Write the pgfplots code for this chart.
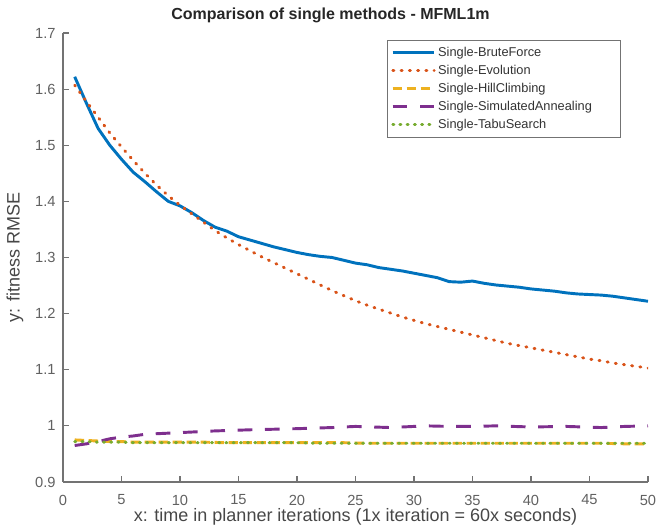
\documentclass[border=0pt]{standalone}
\usepackage{fontspec}
\setmainfont{Liberation Sans}
\usepackage{pgfplots}
\pgfplotsset{compat=1.18}

\definecolor{mblue}{rgb}{0,0.447,0.741}
\definecolor{morange}{rgb}{0.85,0.325,0.098}
\definecolor{myellow}{rgb}{0.929,0.694,0.125}
\definecolor{mpurple}{rgb}{0.494,0.184,0.556}
\definecolor{mgreen}{rgb}{0.466,0.674,0.188}
\definecolor{axgray}{gray}{0.45}

\begin{document}
\begin{tikzpicture}
\begin{axis}[
  scale only axis,
  width=438.75pt, height=336.75pt,
  xmin=0, xmax=50, ymin=0.9, ymax=1.7,
  xtick={0,5,...,50},
  ytick={0.9,1,1.1,1.2,1.3,1.4,1.5,1.6,1.7},
  axis x line*=bottom, axis y line*=left,
  axis line style={draw=axgray, line width=0.9pt, -},
  tick style={draw=axgray, line width=0.9pt},
  tick align=inside,
  major tick length=4.5pt,
  tick label style={font=\fontsize{11}{13}\selectfont, text=black!62},
  xticklabel style={anchor=center, yshift=-13.5pt},
  yticklabel style={xshift=-2pt},
  /pgf/number format/assume math mode=true,
  xlabel={x: time in planner iterations (1x iteration = 60x seconds)},
  ylabel={y: fitness RMSE},
  label style={font=\fontsize{13.5}{15}\selectfont, text=black!72},
  xlabel style={at={(axis description cs:0.5,-0.078)}, anchor=center},
  ylabel style={at={(axis description cs:-0.082,0.5)}, anchor=center},
  legend cell align=left,
  legend style={at={(rel axis cs:0,1)}, anchor=north west, xshift=243pt, yshift=-5.25pt,
    draw=axgray, fill=white, font=\fontsize{9.6}{11}\selectfont, text=black!80,
    row sep=1.1pt, inner xsep=3pt, inner ysep=3pt},
  legend image code/.code={\draw[#1] (0pt,0pt) -- (31pt,0pt);},
]
\coordinate (bl) at (rel axis cs:0,0);
\coordinate (tr) at (rel axis cs:1,1);
\coordinate (tc) at (rel axis cs:0.5,1);
\addplot[mblue, line width=2.2pt] coordinates {
(1,1.622)(2,1.575)(3,1.530)(4,1.500)(5,1.475)(6,1.452)(7,1.435)(8,1.417)(9,1.400)(10,1.392)
(11,1.380)(12,1.366)(13,1.354)(14,1.347)(15,1.337)(16,1.331)(17,1.325)(18,1.319)(19,1.314)(20,1.309)
(21,1.305)(22,1.302)(23,1.300)(24,1.295)(25,1.290)(26,1.287)(27,1.282)(28,1.279)(29,1.276)(30,1.272)
(31,1.268)(32,1.264)(33,1.257)(34,1.256)(35,1.258)(36,1.254)(37,1.251)(38,1.249)(39,1.247)(40,1.244)
(41,1.242)(42,1.240)(43,1.237)(44,1.235)(45,1.234)(46,1.233)(47,1.231)(48,1.228)(49,1.225)(50,1.222)
};
\addlegendentry{Single-BruteForce}
\addplot[morange, line width=2.2pt, dash pattern=on 0.8pt off 5.4pt, line cap=round] coordinates {
(1,1.607)(2,1.578)(3,1.550)(4,1.522)(5,1.497)(6,1.473)(7,1.450)(8,1.429)(9,1.410)(10,1.393)
(11,1.378)(12,1.363)(13,1.348)(14,1.335)(15,1.323)(16,1.312)(17,1.301)(18,1.291)(19,1.281)(20,1.271)
(21,1.261)(22,1.251)(23,1.241)(24,1.232)(25,1.223)(26,1.215)(27,1.208)(28,1.201)(29,1.194)(30,1.188)
(31,1.182)(32,1.177)(33,1.172)(34,1.167)(35,1.162)(36,1.157)(37,1.152)(38,1.147)(39,1.143)(40,1.139)
(41,1.135)(42,1.131)(43,1.127)(44,1.123)(45,1.119)(46,1.116)(47,1.112)(48,1.109)(49,1.106)(50,1.103)
};
\addlegendentry{Single-Evolution}
\addplot[myellow, line width=2.2pt, dash pattern=on 7pt off 3.5pt] coordinates {
(1,0.975)(2,0.974)(3,0.973)(4,0.972)(5,0.972)(6,0.971)(8,0.971)(10,0.971)(12,0.971)(14,0.970)
(16,0.970)(18,0.970)(20,0.970)(22,0.970)(24,0.970)(26,0.969)(28,0.969)(30,0.969)(32,0.969)(34,0.969)
(36,0.969)(38,0.969)(40,0.969)(42,0.969)(44,0.969)(46,0.969)(48,0.968)(50,0.968)
};
\addlegendentry{Single-HillClimbing}
\addplot[mpurple, line width=2.2pt, dash pattern=on 11pt off 9.5pt] coordinates {
(1,0.965)(2,0.968)(3,0.972)(4,0.977)(5,0.980)(6,0.982)(7,0.985)(8,0.986)(10,0.988)(12,0.990)
(13,0.991)(16,0.993)(18,0.994)(20,0.995)(23,0.997)(25,0.999)(28,0.997)(31,1.000)(33,0.999)(35,0.999)
(37,1.000)(40,0.998)(43,0.999)(46,0.997)(48,0.999)(50,1.000)
};
\addlegendentry{Single-SimulatedAnnealing\kern16pt\hbox{}}
\addplot[mgreen, line width=2.2pt, dash pattern=on 0.8pt off 4.6pt, line cap=round] coordinates {
(1,0.972)(2,0.972)(3,0.971)(4,0.971)(5,0.971)(6,0.970)(8,0.970)(10,0.970)(12,0.970)(14,0.970)
(16,0.970)(18,0.970)(20,0.970)(22,0.969)(24,0.969)(26,0.969)(28,0.969)(30,0.969)(32,0.969)(34,0.969)
(36,0.969)(38,0.969)(40,0.969)(42,0.969)(44,0.969)(46,0.969)(48,0.969)(50,0.969)
};
\addlegendentry{Single-TabuSearch}
\end{axis}
\node[font=\fontsize{12}{15}\selectfont\bfseries, text=black!85, anchor=center] at ([xshift=-18.75pt,yshift=13.5pt]tc)
  {Comparison of single methods - MFML1m};
\pgfresetboundingbox
\path[use as bounding box] ([shift={(-47.25pt,-35.25pt)}]bl) rectangle ([shift={(6pt,24.75pt)}]tr);
\end{tikzpicture}
\end{document}
